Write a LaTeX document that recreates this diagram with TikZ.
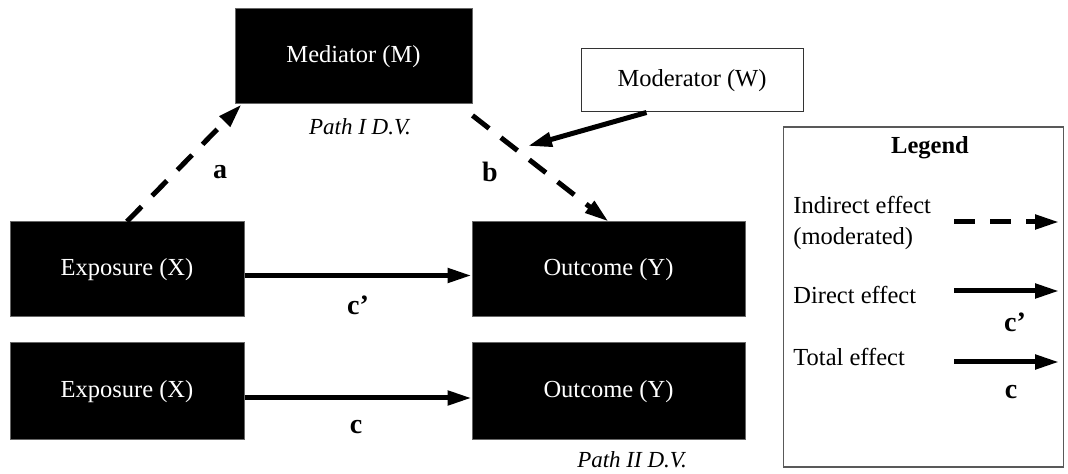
\documentclass[tikz,border=0pt]{standalone}
\usepackage{fontspec}
\setmainfont{Liberation Serif}
\usepackage{tikz}
\usetikzlibrary{arrows.meta}
\tikzset{
  mdbox/.style={fill=black, draw=black!60, line width=0.5pt, text=white, inner sep=0pt,
    font=\fontsize{12.25}{15}\selectfont},
  mdmod/.style={fill=white, draw=black!80, line width=0.5pt, inner sep=0pt,
    font=\fontsize{12.25}{15}\selectfont},
  mdframe/.style={draw=black!65, line width=0.6pt},
  mdtext/.style={inner sep=0pt, font=\fontsize{12.25}{15.5}\selectfont},
  mdpath/.style={inner sep=0pt, font=\fontsize{11.5}{14}\selectfont\itshape},
  mdlabel/.style={inner sep=0pt, font=\fontsize{14}{16}\selectfont\bfseries},
  mdarrow/.style={line width=2.5pt, -{Triangle[length=12pt,width=7pt]}},
  mddash/.style={mdarrow, dash pattern=on 10.5pt off 7.5pt},
}
\begin{document}
\begin{tikzpicture}[x=0.5pt, y=-0.5pt]
\useasboundingbox (0,0) rectangle (1068,474);
% boxes
\node[mdbox, minimum width=118.5pt, minimum height=47.5pt] (med) at (353.5,56.5) {Mediator (M)};
\node[mdmod, minimum width=111pt, minimum height=31.5pt] (mod) at (692,80.5) {Moderator (W)};
\node[mdbox, minimum width=117pt, minimum height=47.5pt] (expo1) at (127,269.5) {Exposure (X)};
\node[mdbox, minimum width=136.5pt, minimum height=47.5pt] (out1) at (608.5,269.5) {Outcome (Y)};
\node[mdbox, minimum width=117pt, minimum height=48.5pt] (expo2) at (127,391.5) {Exposure (X)};
\node[mdbox, minimum width=136.5pt, minimum height=48.5pt] (out2) at (608.5,391.5) {Outcome (Y)};
\node[mdpath] (path1) at (360,127) {Path I D.V.};
\node[mdpath] (path2) at (632,460) {Path II D.V.};
% paths
\coordinate (modtip) at (528,146);
\draw[mddash] (expo1.north) -- ([xshift=3.5pt]med.south west);
\draw[mddash] ([yshift=-5.5pt]med.south east) -- (out1.north);
\draw[mdarrow] ([xshift=33pt]mod.south west) -- (modtip);
\draw[mdarrow] ([yshift=-3pt]expo1.east) -- ([yshift=-3pt]out1.west);
\draw[mdarrow] ([yshift=-3.25pt]expo2.east) -- ([yshift=-3.25pt]out2.west);
\node[mdlabel] (la) at (220,172) {a};
\node[mdlabel] (lb) at (490,172) {b};
\node[mdlabel] (lcp) at (358,305) {c’};
\node[mdlabel] (lc) at (356,427) {c};
% legend
\node[mdframe, minimum width=140pt, minimum height=170pt] (legend) at (923.5,297) {};
\node[mdtext, font=\fontsize{12.25}{15}\selectfont\bfseries] (legtitle) at (930,148) {Legend};
\node[mdtext, anchor=west, align=left] (legind) at (793,222.5) {Indirect effect\\(moderated)};
\node[mdtext, anchor=west] (legdir) at (793,295) {Direct effect};
\node[mdtext, anchor=west] (legtot) at (793,357) {Total effect};
\coordinate (ind0) at (954,222);
\coordinate (ind1) at (1059,222);
\coordinate (dir0) at (954,291);
\coordinate (dir1) at (1059,291);
\coordinate (tot0) at (954,362);
\coordinate (tot1) at (1059,362);
\draw[mddash] (ind0) -- (ind1);
\draw[mdarrow] (dir0) -- (dir1);
\draw[mdarrow] (tot0) -- (tot1);
\node[mdlabel] (legcp) at (1015,322) {c’};
\node[mdlabel] (legc) at (1011,392) {c};
\end{tikzpicture}
\end{document}
